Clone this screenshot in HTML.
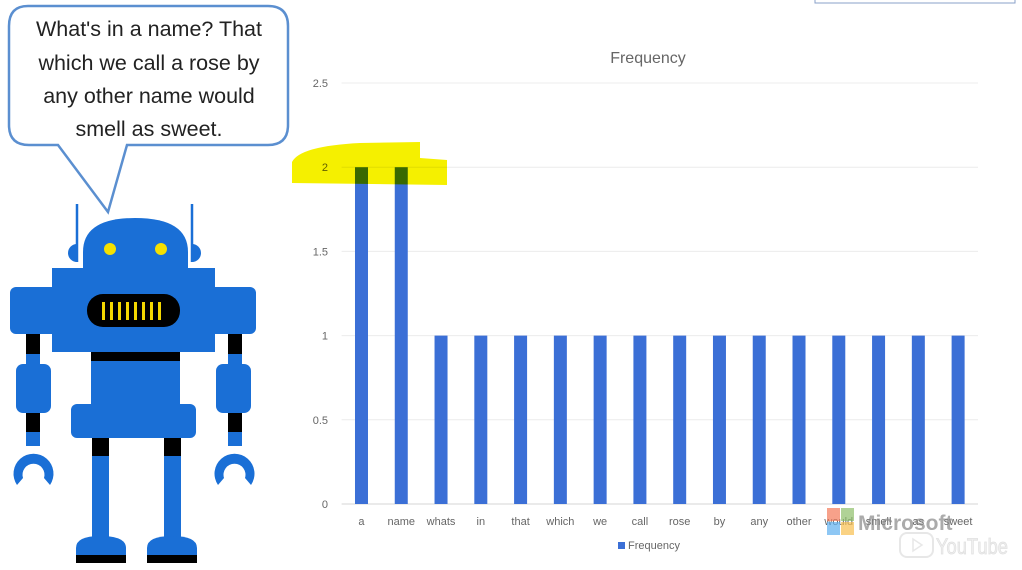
<!DOCTYPE html>
<html><head><meta charset="utf-8">
<style>
html,body{margin:0;padding:0;background:#fff;}
body{width:1022px;height:570px;overflow:hidden;position:relative;font-family:"Liberation Sans","DejaVu Sans",sans-serif;}
svg{position:absolute;left:0;top:0;}
</style></head>
<body>
<svg id="scene" width="1022" height="570" viewBox="0 0 1022 570">
  <rect x="0" y="0" width="1022" height="570" fill="#ffffff"/>
  <rect x="815" y="-2" width="200" height="5" fill="none" stroke="#8aa0c8" stroke-width="1"/>
  <!-- speech bubble -->
  <g>
    <path d="M28,6 H268 Q288,6 288,26 V125 Q288,145 268,145 H127 L108,212 L58,145 H29 Q9,145 9,125 V26 Q9,6 28,6 Z" fill="#fff" stroke="#5b8fd0" stroke-width="2.5"/>
    <g font-size="21.5" fill="#222" text-anchor="middle" font-family="Liberation Sans, DejaVu Sans, sans-serif">
      <text x="149" y="36">What's in a name? That</text>
      <text x="149" y="70">which we call a rose by</text>
      <text x="149" y="103">any other name would</text>
      <text x="149" y="136">smell as sweet.</text>
    </g>
  </g>
  <!-- robot -->
  <g fill="#1a6fd6">
    <line x1="77" y1="204" x2="77" y2="262" stroke="#1a6fd6" stroke-width="2.5"/>
    <line x1="192" y1="204" x2="192" y2="262" stroke="#1a6fd6" stroke-width="2.5"/>
    <path d="M77,244 A8,8 0 0 0 77,262 Z"/>
    <path d="M192,244 A8,8 0 0 1 192,262 Z"/>
    <path d="M83,270 V252 Q83,218 135,218 Q188,218 188,252 V270 Z"/>
    <circle cx="110" cy="249" r="6" fill="#f5e000"/>
    <circle cx="161" cy="249" r="6" fill="#f5e000"/>
    <rect x="52" y="268" width="163" height="84"/>
    <rect x="10" y="287" width="246" height="47" rx="6"/>
    <rect x="87" y="294" width="93" height="33" rx="16" fill="#000"/>
    <g fill="#f5d800">
      <rect x="102" y="302" width="3" height="18"/><rect x="110" y="302" width="3" height="18"/>
      <rect x="118" y="302" width="3" height="18"/><rect x="126" y="302" width="3" height="18"/>
      <rect x="134" y="302" width="3" height="18"/><rect x="142" y="302" width="3" height="18"/>
      <rect x="150" y="302" width="3" height="18"/><rect x="158" y="302" width="3" height="18"/>
    </g>
    <rect x="91" y="352" width="89" height="9" fill="#000"/>
    <rect x="91" y="361" width="89" height="46"/>
    <rect x="71" y="404" width="125" height="34" rx="6"/>
    <rect x="92" y="438" width="17" height="18" fill="#000"/>
    <rect x="92" y="456" width="17" height="84"/>
    <rect x="164" y="438" width="17" height="18" fill="#000"/>
    <rect x="164" y="456" width="17" height="84"/>
    <path d="M76,556 V548 Q76,536 100,536 Q126,536 126,548 V556 Z"/>
    <rect x="76" y="555" width="50" height="8" fill="#000"/>
    <path d="M147,556 V548 Q147,536 172,536 Q197,536 197,548 V556 Z"/>
    <rect x="147" y="555" width="50" height="8" fill="#000"/>
    <rect x="26" y="334" width="14" height="20" fill="#000"/>
    <rect x="26" y="354" width="14" height="12"/>
    <rect x="16" y="364" width="35" height="49" rx="7"/>
    <rect x="26" y="413" width="14" height="19" fill="#000"/>
    <rect x="26" y="432" width="14" height="14"/>
    <path d="M17,485 A20,20 0 1 1 50,485 L44,478 A11,11 0 1 0 23,478 Z"/>
    <rect x="228" y="334" width="14" height="20" fill="#000"/>
    <rect x="228" y="354" width="14" height="12"/>
    <rect x="216" y="364" width="35" height="49" rx="7"/>
    <rect x="228" y="413" width="14" height="19" fill="#000"/>
    <rect x="228" y="432" width="14" height="14"/>
    <path d="M218,485 A20,20 0 1 1 251,485 L245,478 A11,11 0 1 0 224,478 Z"/>
  </g>
  <g id="chart"></g>
  <!-- highlight (multiplied over chart) -->
  <path d="M292,162 Q300,146 360,143 L420,142 V158 L447,160 V185 L292,183 Z" fill="#f5f000" style="mix-blend-mode:multiply"/>
  <!-- watermarks -->
  <g opacity="0.7">
    <rect x="827" y="508" width="13" height="13" fill="#f47a5a"/>
    <rect x="841" y="508" width="13" height="13" fill="#8fc06a"/>
    <rect x="827" y="522" width="13" height="13" fill="#5fb0f0"/>
    <rect x="841" y="522" width="13" height="13" fill="#f8c050"/>
    <text x="858" y="530" font-size="21" fill="#888" font-weight="bold" font-family="Liberation Sans, sans-serif">Microsoft</text>
  </g>
  <g opacity="0.45">
    <rect x="900" y="533" width="33" height="24" rx="7" fill="none" stroke="#ccc" stroke-width="2"/>
    <path d="M913,539 L922,545 L913,551 Z" fill="none" stroke="#ccc" stroke-width="1.5"/>
    <text x="936" y="554" font-size="22" fill="#ddd" stroke="#bbb" stroke-width="0.8" textLength="72" lengthAdjust="spacingAndGlyphs" font-family="Liberation Sans Narrow, Liberation Sans, sans-serif">YouTube</text>
  </g>
</svg>
<script>
const categories = ["a","name","whats","in","that","which","we","call","rose","by","any","other","would","smell","as","sweet"];
const frequencyValues = [2,2,1,1,1,1,1,1,1,1,1,1,1,1,1,1];
const yTickLabels = ["0","0.5","1","1.5","2","2.5"];
const yTickValues = [0,0.5,1,1.5,2,2.5];
const yMax = 2.5;

const NS = "http://www.w3.org/2000/svg";
const chart = document.getElementById("chart");
const plotLeft = 341.6, plotRight = 978, plotTop = 83, plotBottom = 504;
const band = (plotRight - plotLeft) / categories.length;
function xScale(i){ return plotLeft + band * (i + 0.5); }
function yScale(v){ return plotBottom - (v / yMax) * (plotBottom - plotTop); }
function mk(tag, attrs){ const e = document.createElementNS(NS, tag); for (const k in attrs) e.setAttribute(k, attrs[k]); chart.appendChild(e); return e; }

const title = mk("text", {x: 648, y: 63, "font-size": 16, fill: "#666", "text-anchor": "middle"});
title.textContent = "Frequency";



yTickValues.forEach((v, i) => {
  const y = yScale(v);
  const g = mk("line", {x1: plotLeft, x2: plotRight, y1: y, y2: y, stroke: v === 0 ? "#d6d6d6" : "#ececec", "stroke-width": 1});
  
  
  const t = mk("text", {x: 328, y: y + 4, "font-size": 11, fill: "#666", "text-anchor": "end"});
  t.textContent = yTickLabels[i];
  
  
});

categories.forEach((c, i) => {
  const x = xScale(i);
  const y = yScale(frequencyValues[i]);
  const b = mk("rect", {x: x - 6.5, y: y, width: 13, height: plotBottom - y, fill: "#3b6fd6"});
  
  
  const t = mk("text", {x: x, y: 525, "font-size": 11, fill: "#666", "text-anchor": "middle"});
  t.textContent = c;
  
  
});

const lk = mk("rect", {x: 618, y: 542, width: 7, height: 7, fill: "#3b6fd6"});


const lt = mk("text", {x: 628, y: 549, "font-size": 11, fill: "#666"});
lt.textContent = "Frequency";


</script>
</body></html>
